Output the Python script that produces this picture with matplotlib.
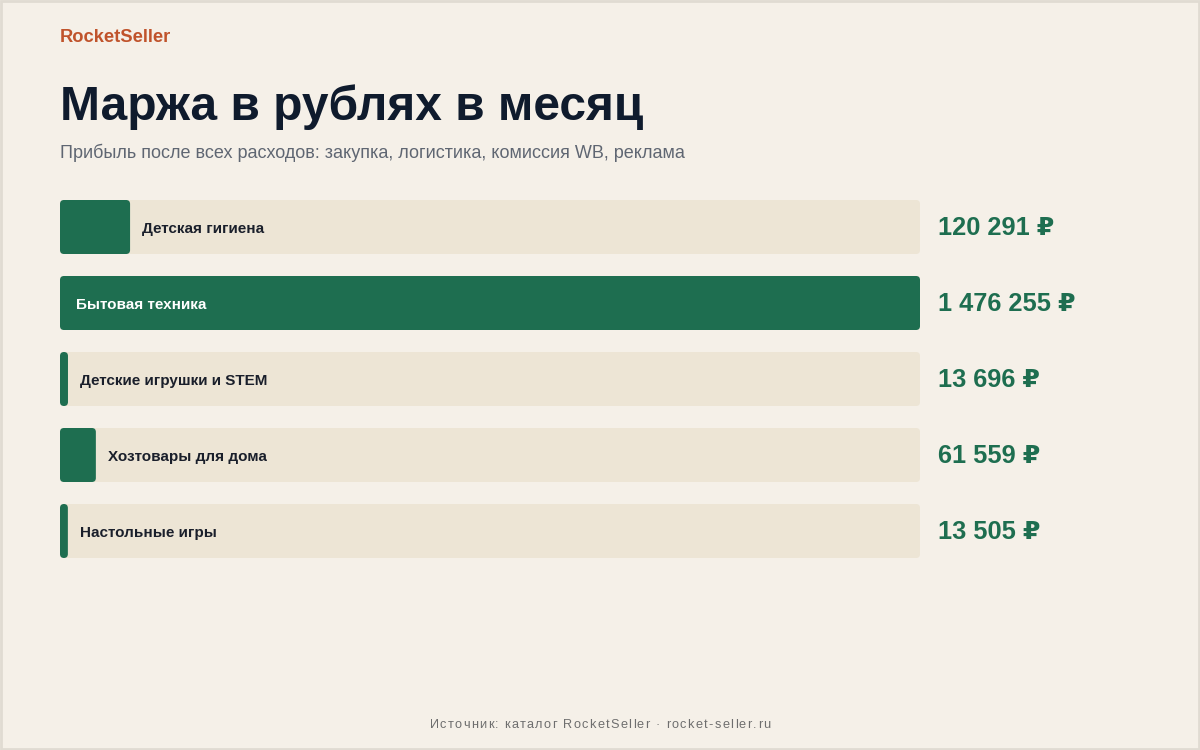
import matplotlib
matplotlib.use("Agg")
import matplotlib.pyplot as plt
from matplotlib.patches import FancyBboxPatch, Rectangle
from matplotlib.font_manager import FontProperties

# data
categories = ["Детская гигиена", "Бытовая техника", "Детские игрушки и STEM",
              "Хозтовары для дома", "Настольные игры"]
margin_rub = [120291, 1476255, 13696, 61559, 13505]
value_labels = ["120 291 ₽", "1 476 255 ₽", "13 696 ₽", "61 559 ₽", "13 505 ₽"]
footer = "Источник: каталог RocketSeller · rocket-seller.ru"

BG = "#f5f0e8"
TRACK = "#ede5d5"
GREEN = "#1e6e50"
DARK = "#0f1b2d"
GREY = "#5f6672"
BRAND = "#c0532b"

plt.rcParams['font.family'] = ['Liberation Sans', 'DejaVu Sans']

W, H = 1200, 750
PT = 0.72  # points per pixel at dpi 100
fig = plt.figure(figsize=(W / 100, H / 100), dpi=100, facecolor=BG)

# page layer in pixel coordinates
page = fig.add_axes([0, 0, 1, 1])
page.set_xlim(0, W)
page.set_ylim(H, 0)
page.axis("off")
page.add_patch(Rectangle((1, 1), W - 2, H - 2, fill=False, edgecolor="#e0dbd2", lw=2))

page.text(60, 42.5, "RocketSeller", fontsize=13.2, fontweight="bold", color=BRAND, va="baseline")
page.text(60, 120, "Маржа в рублях в месяц", fontsize=34.5, fontweight="bold", color=DARK, va="baseline")
page.text(60, 157.5, "Прибыль после всех расходов: закупка, логистика, комиссия WB, реклама",
          fontsize=13, color=GREY, va="baseline")

# footer with letter spacing, drawn char by char
renderer = fig.canvas.get_renderer()
fp = FontProperties(family="Liberation Sans", size=9.2)
spacing = 1.3
widths = [renderer.get_text_width_height_descent(c, fp, ismath=False)[0] for c in footer]
total = sum(widths) + spacing * (len(footer) - 1)
x = 600 - total / 2
for c, w in zip(footer, widths):
    page.text(x, 728, c, fontproperties=fp, color="#6e6e6e", ha="left", va="baseline")
    x += w + spacing

# bars layer: track spans x 60..920 px, rows every 76 px, bar 54 px
pitch, bar_h = 76, 54
n = len(categories)
top, left, width = 200, 60, 860
height = (n - 1) * pitch + bar_h
ax = fig.add_axes([left / W, 1 - (top + height) / H, width / W, height / H])
ax.axis("off")
vmax = max(margin_rub)
ax.set_xlim(0, vmax)
half = bar_h / pitch / 2
ax.set_ylim(n - 1 + half, -half)

xpx = vmax / width          # data units per pixel (x)
ypx = 1 / pitch             # data units per pixel (y)
r = 4 * xpx
aspect = ypx / xpx

def rbox(x0, y0, w, h, color):
    return FancyBboxPatch((x0, y0), w, h, boxstyle=f"round,pad=0,rounding_size={r}",
                          mutation_aspect=aspect, facecolor=color, edgecolor="none")

for i, (cat, v, lab) in enumerate(zip(categories, margin_rub, value_labels)):
    ax.add_patch(rbox(0, i - half, vmax, 2 * half, TRACK))
    ax.add_patch(rbox(0, i - half, v, 2 * half, GREEN))
    if v / vmax > 0.5:
        ax.annotate(cat, xy=(0, i), xytext=(16 * PT, -6 * PT), textcoords="offset points",
                    fontsize=11, fontweight="bold", color="white", va="baseline")
    else:
        ax.annotate(cat, xy=(v, i), xytext=(12 * PT, -6 * PT), textcoords="offset points",
                    fontsize=11, fontweight="bold", color="#1a1f2b", va="baseline")
    ax.annotate(lab, xy=(vmax, i), xytext=(18 * PT, -8 * PT), textcoords="offset points",
                fontsize=18.3, fontweight="bold", color=GREEN, va="baseline",
                annotation_clip=False)

fig.savefig("out.png", dpi=100, facecolor=BG)
